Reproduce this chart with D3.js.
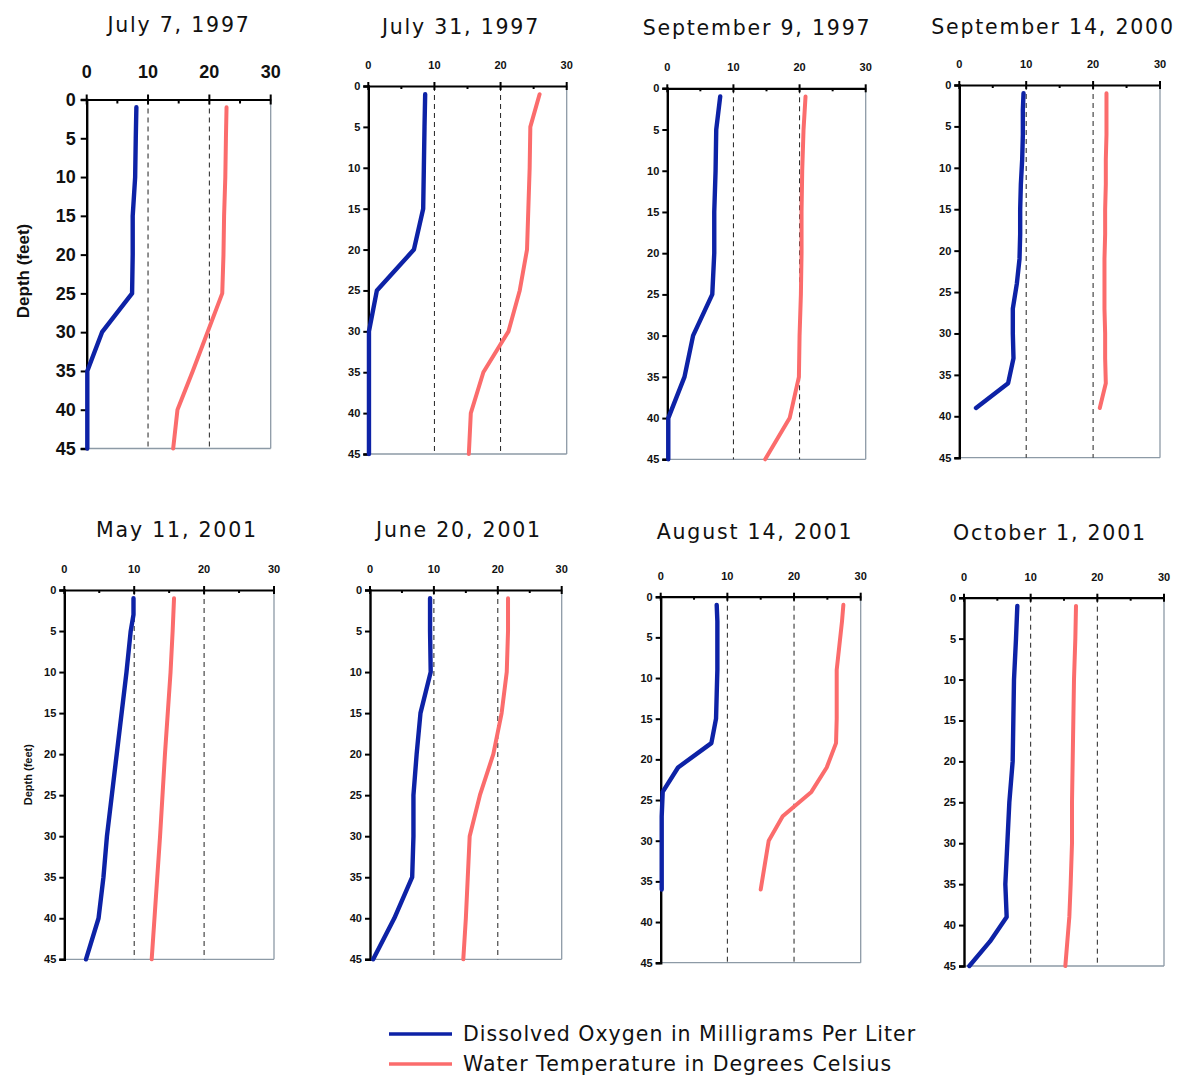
<!DOCTYPE html>
<html><head><meta charset="utf-8">
<script src="https://cdn.jsdelivr.net/npm/d3@7"></script>
<style>
html,body{margin:0;padding:0;background:#fff;}
svg{display:block;}
</style></head>
<body>
<svg id="chart" width="1177" height="1076"></svg>
<script>
// ---------------- DATA ----------------
const titles = ["July 7, 1997","July 31, 1997","September 9, 1997","September 14, 2000",
                "May 11, 2001","June 20, 2001","August 14, 2001","October 1, 2001"];
const xTicks = [0,10,20,30];
const yTicks = [0,5,10,15,20,25,30,35,40,45];
const seriesNames = ["Dissolved Oxygen in Milligrams Per Liter","Water Temperature in Degrees Celsius"];

const depth_jul07_1997 = [1,5,10,15,20,25,30,35,40,45];
const do_jul07_1997    = [8.1,8.0,7.9,7.5,7.5,7.4,2.5,0.1,0.1,0.1];
const temp_jul07_1997  = [22.8,22.7,22.6,22.4,22.3,22.1,19.7,17.3,14.8,14.1];

const depth_jul31_1997 = [1,5,10,15,20,25,30,35,40,45];
const do_jul31_1997    = [8.6,8.5,8.4,8.3,6.9,1.3,0.1,0.1,0.1,0.1];
const temp_jul31_1997  = [25.9,24.5,24.4,24.2,24.0,22.9,21.2,17.4,15.5,15.2];

const depth_sep09_1997 = [1,5,10,15,20,25,30,35,40,45];
const do_sep09_1997    = [8.0,7.4,7.3,7.1,7.1,6.8,3.9,2.6,0.15,0.15];
const temp_sep09_1997  = [20.9,20.6,20.4,20.3,20.3,20.2,20.0,19.9,18.5,14.8];

const depth_sep14_2000 = [1,3,6,9,12,15,18,21,24,27,30,33,36,39];
const do_sep14_2000    = [9.6,9.5,9.5,9.4,9.2,9.1,9.1,9.0,8.6,8.0,8.0,8.1,7.3,2.5];
const temp_sep14_2000  = [22.0,22.0,22.0,21.9,21.9,21.8,21.8,21.7,21.7,21.7,21.8,21.8,21.9,21.0];

const depth_may11_2001 = [1,3,5,10,20,30,35,40,45];
const do_may11_2001    = [9.9,9.9,9.5,8.9,7.5,6.1,5.6,4.9,3.1];
const temp_may11_2001  = [15.7,15.6,15.5,15.2,14.4,13.7,13.3,12.9,12.5];

const depth_jun20_2001 = [1,5,10,15,20,25,30,35,40,45];
const do_jun20_2001    = [9.4,9.4,9.5,7.9,7.3,6.8,6.8,6.6,3.8,0.5];
const temp_jun20_2001  = [21.6,21.6,21.4,20.6,19.3,17.2,15.6,15.3,15.0,14.6];

const depth_aug14_2001 = [1,3,6,9,12,15,18,21,24,27,30,33,36];
const do_aug14_2001    = [8.4,8.5,8.5,8.5,8.4,8.3,7.6,2.6,0.3,0.15,0.15,0.15,0.15];
const temp_aug14_2001  = [27.4,27.2,26.8,26.4,26.4,26.4,26.3,24.9,22.6,18.3,16.2,15.6,15.0];

const depth_oct01_2001 = [1,5,10,15,20,25,30,35,39,42,45];
const do_oct01_2001    = [8.0,7.8,7.5,7.4,7.3,6.8,6.5,6.2,6.4,3.9,0.8];
const temp_oct01_2001  = [16.8,16.7,16.5,16.4,16.3,16.2,16.2,16.0,15.8,15.5,15.2];

const panelDepths = [depth_jul07_1997,depth_jul31_1997,depth_sep09_1997,depth_sep14_2000,
                     depth_may11_2001,depth_jun20_2001,depth_aug14_2001,depth_oct01_2001];
const panelDO     = [do_jul07_1997,do_jul31_1997,do_sep09_1997,do_sep14_2000,
                     do_may11_2001,do_jun20_2001,do_aug14_2001,do_oct01_2001];
const panelTemp   = [temp_jul07_1997,temp_jul31_1997,temp_sep09_1997,temp_sep14_2000,
                     temp_may11_2001,temp_jun20_2001,temp_aug14_2001,temp_oct01_2001];

// ---------------- LAYOUT ----------------
const layout = [
  {x0:86.7, x1:270.7, y0:99.5,  y1:448.5, tx:179,  ty:32,  big:true,  ylab:true, ylx:23},
  {x0:368.3,x1:566.7, y0:86,    y1:454,   tx:461,  ty:34,  big:false},
  {x0:667.3,x1:865.7, y0:88.3,  y1:459.3, tx:757,  ty:35,  big:false},
  {x0:959.3,x1:1160,  y0:85,    y1:457.7, tx:1053, ty:34,  big:false},
  {x0:64.3, x1:274,   y0:590,   y1:959.3, tx:177,  ty:537, big:false, ylab:true, ylx:28},
  {x0:370,  x1:561.7, y0:590,   y1:959.3, tx:459,  ty:537, big:false},
  {x0:660.7,x1:860.7, y0:596.7, y1:962.7, tx:755,  ty:539, big:false},
  {x0:964,  x1:1164,  y0:597.7, y1:966,   tx:1050, ty:540, big:false}
];
const BLUE = "#0d22a6", RED = "#fb6c6c";

const svg = d3.select("#chart");

layout.forEach((L, i) => {
  const x = d3.scaleLinear().domain([0,30]).range([L.x0, L.x1]);
  const y = d3.scaleLinear().domain([0,45]).range([L.y0, L.y1]);
  const g = svg.append("g");
  const fs = L.big ? 18 : 11;

  // right & bottom borders
  g.append("line").attr("x1", x(30)).attr("x2", x(30)).attr("y1", y(0)).attr("y2", y(45))
    .attr("stroke", "#8d9aa6").attr("stroke-width", 1.3);
  g.append("line").attr("x1", x(0)).attr("x2", x(30)).attr("y1", y(45)).attr("y2", y(45))
    .attr("stroke", "#8d9aa6").attr("stroke-width", 1.3);

  // dashed reference lines
  [10,20].forEach(v => {
    g.append("line").attr("x1", x(v)).attr("x2", x(v)).attr("y1", y(0)).attr("y2", y(45))
      .attr("stroke", "#222").attr("stroke-width", 1).attr("stroke-dasharray", "5,4");
  });

  // top axis
  const top = g.append("g").attr("transform", `translate(0,${y(0)})`)
    .call(d3.axisTop(x).tickValues([0,5,10,15,20,25,30]).tickSize(0).tickFormat(""));
  top.select(".domain").attr("stroke", "#000").attr("stroke-width", 2.2);
  [0,5,10,15,20,25,30].forEach(v => {
    const major = v % 10 === 0;
    g.append("line").attr("x1", x(v)).attr("x2", x(v))
      .attr("y1", y(0) - (major ? (L.big?5:4) : 0)).attr("y2", y(0) + (major ? (L.big?5:4) : (L.big?4:3)))
      .attr("stroke", "#000").attr("stroke-width", 2);
  });
  g.selectAll(".xl").data(xTicks).enter().append("text")
    .attr("x", d => x(d)).attr("y", y(0) - (L.big ? 22 : 17))
    .attr("text-anchor", "middle")
    .attr("font-family", "'Liberation Sans', Arial, sans-serif")
    .attr("font-weight", "bold").attr("font-size", fs).attr("fill", "#111")
    .text(d => d);

  // left axis
  const left = g.append("g").attr("transform", `translate(${x(0)},0)`)
    .call(d3.axisLeft(y).tickValues(yTicks).tickSize(L.big?6:5).tickFormat(d => d).tickPadding(L.big?5:3));
  left.select(".domain").attr("stroke", "#000").attr("stroke-width", 2.4);
  left.selectAll(".tick line").attr("stroke", "#000").attr("stroke-width", 2);
  left.selectAll(".tick text")
    .attr("font-family", "'Liberation Sans', Arial, sans-serif")
    .attr("font-weight", "bold").attr("font-size", fs).attr("fill", "#111");

  // title
  g.append("text").attr("x", L.tx).attr("y", L.ty).attr("text-anchor", "middle")
    .attr("font-family", "'DejaVu Sans', Verdana, sans-serif").attr("font-size", 20.5)
    .attr("letter-spacing", 1.8).attr("fill", "#111").text(titles[i]);

  // y label
  if (L.ylab) {
    const cy = (y(0) + y(45)) / 2 + (L.big ? -3 : 0);
    g.append("text").attr("transform", `translate(${L.ylx + (L.big?6:4)},${cy}) rotate(-90)`)
      .attr("text-anchor", "middle")
      .attr("font-family", "'Liberation Sans', Arial, sans-serif")
      .attr("font-weight", "bold").attr("font-size", L.big ? 17 : 11).attr("fill", "#111")
      .text("Depth (feet)");
  }

  // lines
  const dep = panelDepths[i];
  const line = d3.line().x(d => x(d[0])).y(d => y(d[1]));
  g.append("path").datum(panelTemp[i].map((v, k) => [v, dep[k]]))
    .attr("d", line).attr("fill", "none").attr("stroke", RED)
    .attr("stroke-width", 4).attr("stroke-linejoin", "round").attr("stroke-linecap", "round");
  g.append("path").datum(panelDO[i].map((v, k) => [v, dep[k]]))
    .attr("d", line).attr("fill", "none").attr("stroke", BLUE)
    .attr("stroke-width", 4.4).attr("stroke-linejoin", "round").attr("stroke-linecap", "round");
});

// legend
const legend = svg.append("g");
[BLUE, RED].forEach((c, k) => {
  const ly = 1034 + k * 30;
  legend.append("line").attr("x1", 389).attr("x2", 452).attr("y1", ly).attr("y2", ly)
    .attr("stroke", c).attr("stroke-width", 3.5);
  legend.append("text").attr("x", 463).attr("y", ly + 7)
    .attr("font-family", "'DejaVu Sans', Verdana, sans-serif").attr("font-size", 20.5)
    .attr("letter-spacing", 1.0).attr("fill", "#111").text(seriesNames[k]);
});
</script>
</body></html>
